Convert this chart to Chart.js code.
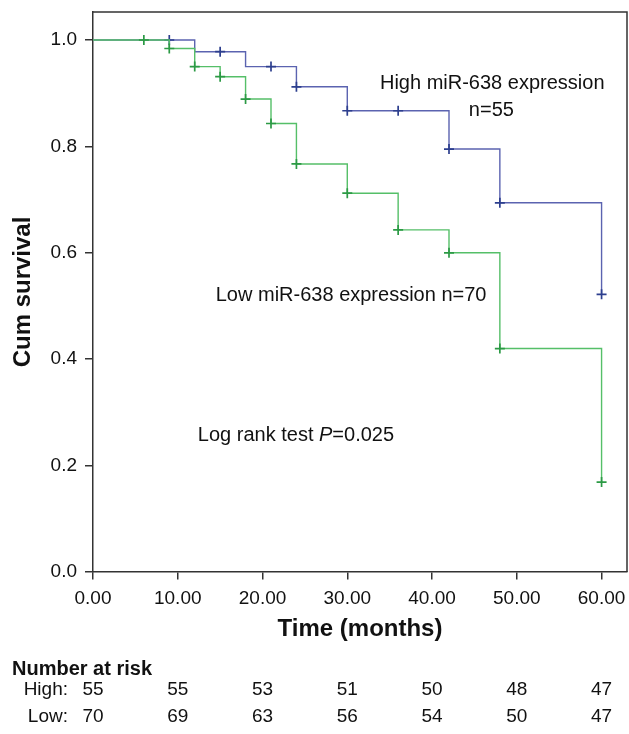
<!DOCTYPE html>
<html>
<head>
<meta charset="utf-8">
<script src="https://cdn.jsdelivr.net/npm/chart.js@4.4.1/dist/chart.umd.min.js"></script>
<style>
  html, body { margin: 0; padding: 0; background: #ffffff; overflow: hidden; }
  #wrap { width: 629px; height: 734px; position: relative; }
  canvas { display: block; }
</style>
</head>
<body>
<div id="wrap"><canvas id="grafico_km"></canvas></div>
<script>
// Kaplan-Meier, high vs low miR-638 expression
const highTime = [0, 12, 18, 24, 30, 42, 48, 60];
const highSurv = [1.0, 0.978, 0.950, 0.912, 0.867, 0.795, 0.694, 0.522];
const highCensorTime = [9, 15, 21, 24, 30, 36, 42, 48, 60];
const highCensorSurv = [1.0, 0.978, 0.950, 0.912, 0.867, 0.867, 0.795, 0.694, 0.522];

const lowTime = [0, 9, 12, 15, 18, 21, 24, 30, 36, 42, 48, 60];
const lowSurv = [1.0, 0.984, 0.950, 0.931, 0.889, 0.843, 0.767, 0.712, 0.643, 0.600, 0.420, 0.169];
const lowCensorTime = [6, 9, 12, 15, 18, 21, 24, 30, 36, 42, 48, 60];
const lowCensorSurv = [1.0, 0.984, 0.950, 0.931, 0.889, 0.843, 0.767, 0.712, 0.643, 0.600, 0.420, 0.169];

const riskTimes = [0, 10, 20, 30, 40, 50, 60];
const riskHigh = [55, 55, 53, 51, 50, 48, 47];
const riskLow = [70, 69, 63, 56, 54, 50, 47];

const xTicks = [0, 10, 20, 30, 40, 50, 60];
const yTicks = [0, 0.2, 0.4, 0.6, 0.8, 1.0];

function puntos(xs, ys) {
    return xs.map(function (x, i) { return { x: x, y: ys[i] }; });
}

const ejeColor = '#333333';

// marco + textos + tabla de riesgo
const extras = {
    id: 'extras',
    afterDraw: function (chart) {
        const ctx = chart.ctx;
        const a = chart.chartArea;
        const xs = chart.scales.x;
        const ys = chart.scales.y;
        ctx.save();
        ctx.strokeStyle = ejeColor;
        ctx.lineWidth = 1.5;
        ctx.beginPath();
        ctx.moveTo(a.left, a.top);
        ctx.lineTo(a.right, a.top);
        ctx.lineTo(a.right, a.bottom);
        ctx.stroke();

        ctx.fillStyle = '#111111';
        ctx.textBaseline = 'middle';
        ctx.font = '20px "Liberation Sans", Arial, sans-serif';
        ctx.textAlign = 'center';
        ctx.fillText('High miR-638 expression', xs.getPixelForValue(47.1), ys.getPixelForValue(0.918));
        ctx.fillText('n=55', xs.getPixelForValue(47.0), ys.getPixelForValue(0.868));
        ctx.fillText('Low miR-638 expression n=70', xs.getPixelForValue(30.45), ys.getPixelForValue(0.520));

        // Log rank test P=0.025 (P en cursiva)
        ctx.textAlign = 'left';
        let lx = xs.getPixelForValue(12.37);
        const ly = ys.getPixelForValue(0.257);
        const t1 = 'Log rank test ';
        ctx.fillText(t1, lx, ly);
        lx += ctx.measureText(t1).width;
        ctx.font = 'italic 20px "Liberation Sans", Arial, sans-serif';
        ctx.fillText('P', lx, ly);
        lx += ctx.measureText('P').width;
        ctx.font = '20px "Liberation Sans", Arial, sans-serif';
        ctx.fillText('=0.025', lx, ly);

        // Number at risk
        ctx.font = 'bold 20px "Liberation Sans", Arial, sans-serif';
        ctx.textAlign = 'left';
        ctx.fillText('Number at risk', 12, 669);
        ctx.font = '19px "Liberation Sans", Arial, sans-serif';
        ctx.textAlign = 'right';
        ctx.fillText('High:', 68, 690);
        ctx.fillText('Low:', 68, 717);
        ctx.textAlign = 'center';
        riskTimes.forEach(function (t, i) {
            const px = xs.getPixelForValue(t);
            ctx.fillText(String(riskHigh[i]), px, 690);
            ctx.fillText(String(riskLow[i]), px, 717);
        });
        ctx.restore();
    }
};

document.addEventListener('DOMContentLoaded', function () {
    const grafico = document.getElementById('grafico_km').getContext('2d');
    const myChart = new Chart(grafico, {
        type: 'scatter',
        data: {
            datasets: [{
                label: 'Low censored',
                data: puntos(lowCensorTime, lowCensorSurv),
                pointStyle: 'cross',
                pointRadius: 5,
                borderColor: '#2c9a45',
                backgroundColor: '#2c9a45',
                borderWidth: 1.7,
                showLine: false
            },
            {
                label: 'Low',
                data: puntos(lowTime, lowSurv),
                showLine: true,
                stepped: true,
                pointRadius: 0,
                borderColor: '#55bf68',
                borderWidth: 1.4,
                fill: false
            },
            {
                label: 'High censored',
                data: puntos(highCensorTime, highCensorSurv),
                pointStyle: 'cross',
                pointRadius: 5,
                borderColor: '#2d3f8e',
                backgroundColor: '#2d3f8e',
                borderWidth: 1.7,
                showLine: false
            },
            {
                label: 'High',
                data: puntos(highTime, highSurv),
                showLine: true,
                stepped: true,
                pointRadius: 0,
                borderColor: '#5b63b0',
                borderWidth: 1.4,
                fill: false
            }]
        },
        options: {
            responsive: true,
            maintainAspectRatio: false,
            animation: false,
            layout: {
                autoPadding: false,
                padding: { top: 12, right: 2, bottom: 82, left: 0 }
            },
            scales: {
                x: {
                    type: 'linear',
                    min: 0,
                    max: 63,
                    afterBuildTicks: function (scale) {
                        scale.ticks = xTicks.map(function (v) { return { value: v }; });
                    },
                    afterFit: function (scale) {
                        scale.height = 80;
                    },
                    ticks: {
                        color: '#111111',
                        padding: 1,
                        maxRotation: 0,
                        font: { family: '"Liberation Sans", Arial, sans-serif', size: 19 },
                        callback: function (v) { return Number(v).toFixed(2); }
                    },
                    grid: {
                        display: true,
                        drawOnChartArea: false,
                        drawTicks: true,
                        tickLength: 14,
                        tickBorderDash: [7, 60],
                        color: ejeColor,
                        lineWidth: 1.5
                    },
                    border: { display: true, color: ejeColor, width: 1.5 },
                    title: {
                        display: true,
                        text: 'Time (months)',
                        color: '#111111',
                        padding: { top: 0, bottom: 8 },
                        font: { family: '"Liberation Sans", Arial, sans-serif', size: 24, weight: 'bold' }
                    }
                },
                y: {
                    type: 'linear',
                    min: 0,
                    max: 1.0526,
                    afterBuildTicks: function (scale) {
                        scale.ticks = yTicks.map(function (v) { return { value: v }; });
                    },
                    afterFit: function (scale) {
                        scale.width = 93;
                        scale.paddingTop = 0;
                        scale.paddingBottom = 0;
                    },
                    ticks: {
                        color: '#111111',
                        padding: 8,
                        font: { family: '"Liberation Sans", Arial, sans-serif', size: 19 },
                        callback: function (v) { return Number(v).toFixed(1); }
                    },
                    grid: {
                        display: true,
                        drawOnChartArea: false,
                        drawTicks: true,
                        tickLength: 8,
                        color: ejeColor,
                        lineWidth: 1.5
                    },
                    border: { display: true, color: ejeColor, width: 1.5 },
                    title: {
                        display: true,
                        text: 'Cum survival',
                        color: '#111111',
                        padding: { top: 9, bottom: 0 },
                        font: { family: '"Liberation Sans", Arial, sans-serif', size: 24, weight: 'bold' }
                    }
                }
            },
            plugins: {
                legend: { display: false },
                tooltip: { enabled: false }
            }
        },
        plugins: [extras]
    });
});
</script>
</body>
</html>
